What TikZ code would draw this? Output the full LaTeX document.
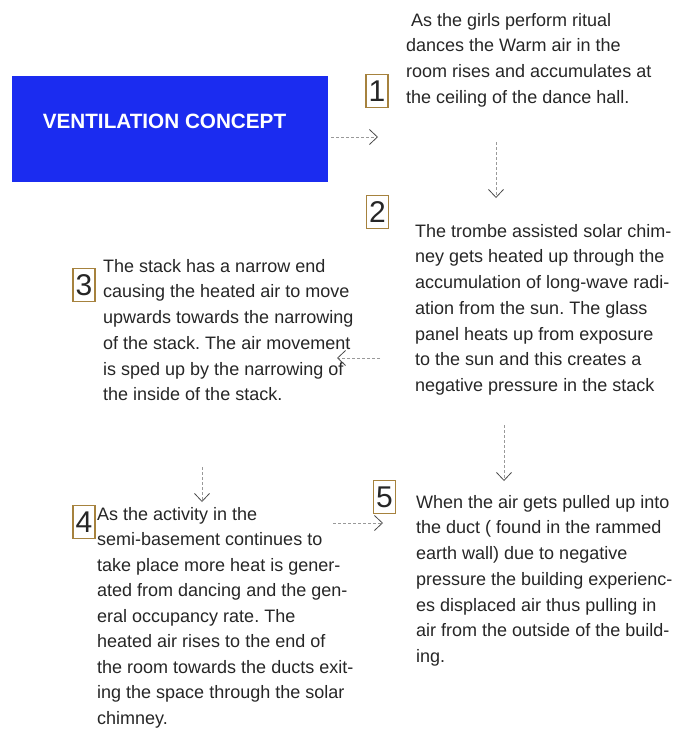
\documentclass[tikz,border=0pt]{standalone}
\usepackage{fontspec}
\setmainfont{Liberation Sans}
\usepackage{xcolor}
\usepackage{tikz}
\usetikzlibrary{arrows.meta, positioning}
\frenchspacing

\definecolor{conceptblue}{RGB}{27,44,240}
\definecolor{numframe}{RGB}{166,130,62}

\tikzset{
  conceptbox/.style={fill=conceptblue, minimum width=316pt, minimum height=106pt, inner sep=0pt},
  stepnum/.style={draw=numframe, line width=1.1pt, minimum width=22pt, minimum height=33pt, inner sep=0pt, text=black!85, font=\fontsize{30}{30}\selectfont},
  desc/.style={anchor=north west, align=left, inner sep=0pt, text=black!85, font=\fontsize{18}{25.7}\selectfont},
  flow/.style={gray!80, densely dashed, line width=0.8pt, -{Straight Barb[length=8pt,width=15pt,gray!60!black]}}
}

\begin{document}
\begin{tikzpicture}[x=1pt, y=-1pt]
\useasboundingbox (0,0) rectangle (675,729);

\node[conceptbox] (concept) at (170,129) {};
\node[white, font=\bfseries\fontsize{20.7}{24}\selectfont] (concepttitle) at (164.5,121) {VENTILATION CONCEPT};

% step numbers
\node[stepnum] (n1) at (377,91) {1};
\node[stepnum] (n2) at (377.5,212) {2};
\node[stepnum] (n3) at (84,285) {3};
\node[stepnum] (n4) at (84,522) {4};
\node[stepnum] (n5) at (384.5,497) {5};

% descriptions
\node[desc] (t1) at (406,13) {\hspace*{5pt}As the girls perform ritual\\dances the Warm air in the\\room rises and accumulates at\\the ceiling of the dance hall.};
\node[desc] (t2) at (415,224) {The trombe assisted solar chim-\\ney gets heated up through the\\accumulation of long-wave radi-\\ation from the sun. The glass\\panel heats up from exposure\\to the sun and this creates a\\negative pressure in the stack};
\node[desc] (t3) at (103,259) {The stack has a narrow end\\causing the heated air to move\\upwards towards the narrowing\\of the stack. The air movement\\is sped up by the narrowing of\\the inside of the stack.};
\node[desc, font=\fontsize{18}{25.5}\selectfont] (t4) at (97,507) {As the activity in the\\semi-basement continues to\\take place more heat is gener-\\ated from dancing and the gen-\\eral occupancy rate. The\\heated air rises to the end of\\the room towards the ducts exit-\\ing the space through the solar\\chimney.};
\node[desc] (t5) at (416,495) {When the air gets pulled up into\\the duct ( found in the rammed\\earth wall) due to negative\\pressure the building experienc-\\es displaced air thus pulling in\\air from the outside of the build-\\ing.};

% arrow ends
\coordinate (c1a) at (331,137); \coordinate (c1b) at (378,137);
\coordinate (c2a) at (496,142); \coordinate (c2b) at (496,198);
\coordinate (c3a) at (380,358); \coordinate (c3b) at (337,358);
\coordinate (c4a) at (202,467); \coordinate (c4b) at (202,502);
\coordinate (c5a) at (504,425); \coordinate (c5b) at (504,481);
\coordinate (c6a) at (333,523); \coordinate (c6b) at (383,523);

\draw[flow] (c1a) -- (c1b);
\draw[flow] (c2a) -- (c2b);
\draw[flow] (c3a) -- (c3b);
\draw[flow] (c4a) -- (c4b);
\draw[flow] (c5a) -- (c5b);
\draw[flow] (c6a) -- (c6b);
\end{tikzpicture}
\end{document}
